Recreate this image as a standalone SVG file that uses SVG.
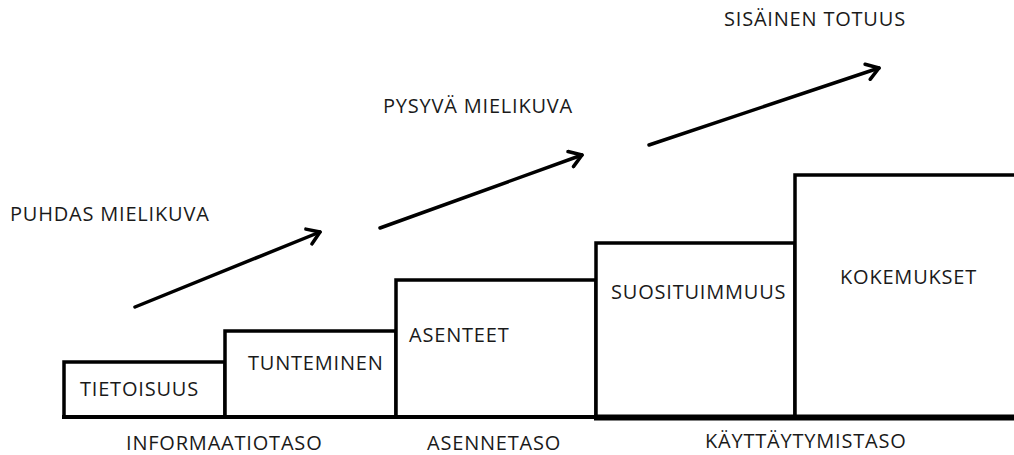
<svg xmlns="http://www.w3.org/2000/svg" width="1014" height="455" viewBox="0 0 1014 455">
<style>
.box{fill:#fff;stroke:#000;stroke-width:3.5}
.t{font-family:"Open Sans","Liberation Sans",sans-serif;font-size:20px;letter-spacing:0.8px;fill:#1a1a1a}
.arr{stroke:#000;stroke-width:3.5;fill:none;stroke-linecap:round}
</style>
<defs>
<marker id="ah" viewBox="0 0 20 20" refX="18" refY="10" markerWidth="20" markerHeight="20" markerUnits="userSpaceOnUse" orient="auto">
<path d="M6,2 L18,10 L6,18" fill="none" stroke="#000" stroke-width="3.5" stroke-linecap="round" stroke-linejoin="round"/>
</marker>
</defs>
<rect width="1014" height="455" fill="#fff"/>
<g id="connectors">
<line class="arr" x1="135" y1="307" x2="320" y2="232" marker-end="url(#ah)"/>
<line class="arr" x1="380" y1="228" x2="582" y2="155" marker-end="url(#ah)"/>
<line class="arr" x1="649" y1="145" x2="879" y2="68" marker-end="url(#ah)"/>
</g>
<g id="tietoisuus"><rect class="box" x="64" y="362" width="161" height="55"/><text class="t" x="80" y="396">TIETOISUUS</text></g>
<g id="tunteminen"><rect class="box" x="225" y="331" width="171" height="86"/><text class="t" x="248" y="370">TUNTEMINEN</text></g>
<g id="asenteet"><rect class="box" x="396" y="280" width="200" height="137"/><text class="t" x="409" y="342">ASENTEET</text></g>
<g id="suosituimmuus"><rect class="box" x="596" y="243" width="199" height="174"/><text class="t" x="611" y="299">SUOSITUIMMUUS</text></g>
<g id="kokemukset"><rect class="box" x="795" y="175" width="225" height="242"/><text class="t" x="840" y="284">KOKEMUKSET</text></g>
<g id="baseline">
<line x1="62" y1="417" x2="600" y2="417" stroke="#000" stroke-width="4"/>
<line x1="594" y1="417.5" x2="1014" y2="417.5" stroke="#000" stroke-width="6"/>
</g>
<g id="labels">
<text class="t" x="126" y="450">INFORMAATIOTASO</text>
<text class="t" x="427" y="450">ASENNETASO</text>
<text class="t" x="705" y="448">KÄYTTÄYTYMISTASO</text>
<text class="t" x="10" y="221">PUHDAS MIELIKUVA</text>
<text class="t" x="383" y="113">PYSYVÄ MIELIKUVA</text>
<text class="t" x="724" y="26">SISÄINEN TOTUUS</text>
</g>
</svg>
